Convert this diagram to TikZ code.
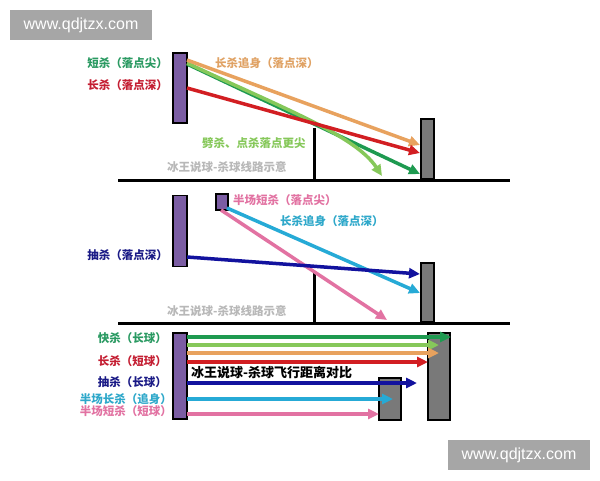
\documentclass[tikz,border=0pt]{standalone}
\usepackage{fontspec}
\setmainfont{Liberation Sans}
\newfontfamily\cjk{Noto Sans CJK SC}
\usetikzlibrary{arrows.meta}
\definecolor{dgreen}{HTML}{1E9A50}
\definecolor{lgreen}{HTML}{86C85A}
\definecolor{orng}{HTML}{E8A25E}
\definecolor{rred}{HTML}{D21E22}
\definecolor{bblue}{HTML}{12129E}
\definecolor{ccyan}{HTML}{26AAD6}
\definecolor{ppink}{HTML}{E272A2}
\definecolor{purp}{HTML}{7B5DA3}
\definecolor{wmgray}{HTML}{A6A6A6}
\definecolor{capgray}{HTML}{B8B8B8}
\definecolor{lblgreen}{HTML}{2A9A62}
\definecolor{lblred}{HTML}{C41E32}
\definecolor{lblblue}{HTML}{1A1A86}
\definecolor{lblcyan}{HTML}{2EA8CA}
\definecolor{lblorange}{HTML}{E0A264}
\begin{document}
\begin{tikzpicture}[x=1pt,y=-1pt,
  lbl/.style={font=\cjk\bfseries\fontsize{11.5}{12}\selectfont, inner sep=0pt},
  captxt/.style={font=\cjk\bfseries\fontsize{11.5}{12}\selectfont, inner sep=0pt, text=capgray, anchor=west},
  arr/.style={line width=3.5pt, -{Triangle[length=11pt,width=10pt]}},
  player/.style={draw=black, fill=purp, line width=1.2pt, inner sep=0pt, minimum width=14pt},
  recv/.style={draw=black, fill=gray!95!black, line width=1.2pt, inner sep=0pt},
  floorline/.style={line width=3pt, black},
  netline/.style={line width=3pt, black},
  wm/.style={fill=wmgray, text=white, font=\fontsize{16}{16}\selectfont, inner sep=0pt, minimum width=142pt, minimum height=30pt}
]
\useasboundingbox (0,0) rectangle (600,480);
\fill[white] (0,0) rectangle (600,480);

% watermarks
\node[wm] (wm1) at (81,25) {www.qdjtzx.com};
\node[wm] (wm2) at (519,455) {www.qdjtzx.com};

% ================= Panel 1 =================
\coordinate (f1a) at (118,180); \coordinate (f1b) at (510,180);
\draw[floorline] (f1a) -- (f1b);
\coordinate (n1t) at (314,128); \coordinate (n1b) at (314,180);
\draw[netline] (n1t) -- (n1b);
\node[player, minimum height=70pt] (p1) at (180,88) {};
\node[recv, minimum width=13pt, minimum height=60pt] (r1) at (427.5,149) {};

\coordinate (s1o) at (187,60);  \coordinate (e1o) at (420,145);
\coordinate (s1g) at (187,64);  \coordinate (e1g) at (420,174);
\coordinate (s1l) at (187,63);  \coordinate (e1l) at (382,176);
\coordinate (s1r) at (187,88);  \coordinate (e1r) at (420,153);
\draw[arr, dgreen] (s1g) -- (e1g);
\draw[arr, lgreen] (s1l) .. controls (280,107) and (355,135) .. (e1l);
\draw[arr, orng] (s1o) -- (e1o);
\draw[arr, rred] (s1r) -- (e1r);

\node[lbl, text=lblgreen, anchor=east] (l1a) at (168,63) {短杀（落点尖）};
\node[lbl, text=lblred, anchor=east] (l1b) at (168,85) {长杀（落点深）};
\node[lbl, text=lblorange, anchor=west] (l1c) at (215,63) {长杀追身（落点深）};
\node[lbl, text=lgreen, anchor=west] (l1d) at (202,143) {劈杀、点杀落点更尖};
\node[captxt] (c1) at (167,167) {冰王说球-杀球线路示意};

% ================= Panel 2 =================
\coordinate (f2a) at (118,323); \coordinate (f2b) at (510,323);
\draw[floorline] (f2a) -- (f2b);
\coordinate (n2t) at (314,272); \coordinate (n2b) at (314,323);
\draw[netline] (n2t) -- (n2b);
\node[player, minimum height=71pt] (p2) at (180,231) {};
\node[player, minimum width=12pt, minimum height=16pt] (p2s) at (222,202) {};
\node[recv, minimum width=13pt, minimum height=59pt] (r2) at (427.5,292.5) {};

\coordinate (s2p) at (221,210); \coordinate (e2p) at (387,320);
\coordinate (s2c) at (227,208); \coordinate (e2c) at (420,293);
\coordinate (s2b) at (187,257); \coordinate (e2b) at (420,274);
\draw[arr, ppink] (s2p) -- (e2p);
\draw[arr, ccyan] (s2c) -- (e2c);
\draw[arr, bblue] (s2b) -- (e2b);

\node[lbl, text=ppink, anchor=west] (l2a) at (233,200) {半场短杀（落点尖）};
\node[lbl, text=lblcyan, anchor=west] (l2b) at (280,221) {长杀追身（落点深）};
\node[lbl, text=lblblue, anchor=east] (l2c) at (168,255) {抽杀（落点深）};
\node[captxt] (c2) at (167,311) {冰王说球-杀球线路示意};

% ================= Panel 3 =================
\node[player, minimum height=86pt] (p3) at (180,376) {};
\node[recv, minimum width=22pt, minimum height=87pt] (r3a) at (439,376.5) {};
\node[recv, minimum width=22pt, minimum height=42pt] (r3b) at (390,399) {};

\coordinate (s3a) at (187,337); \coordinate (e3a) at (451,337);
\coordinate (s3b) at (187,345); \coordinate (e3b) at (439,345);
\coordinate (s3c) at (187,353); \coordinate (e3c) at (439,353);
\coordinate (s3d) at (187,362); \coordinate (e3d) at (428,362);
\coordinate (s3e) at (187,383); \coordinate (e3e) at (417,383);
\coordinate (s3f) at (187,399); \coordinate (e3f) at (393,399);
\coordinate (s3g) at (187,414); \coordinate (e3g) at (379,414);
\draw[arr, dgreen] (s3a) -- (e3a);
\draw[arr, lgreen] (s3b) -- (e3b);
\draw[arr, orng] (s3c) -- (e3c);
\draw[arr, rred] (s3d) -- (e3d);
\draw[arr, bblue] (s3e) -- (e3e);
\draw[arr, ccyan] (s3f) -- (e3f);
\draw[arr, ppink] (s3g) -- (e3g);

\node[lbl, text=lblgreen, anchor=east] (l3a) at (167,338) {快杀（长球）};
\node[lbl, text=lblred, anchor=east] (l3b) at (167,361) {长杀（短球）};
\node[lbl, text=lblblue, anchor=east] (l3c) at (167,382) {抽杀（长球）};
\node[lbl, text=lblcyan, anchor=east] (l3d) at (172,399) {半场长杀（追身）};
\node[lbl, text=ppink, anchor=east] (l3e) at (172,411) {半场短杀（短球）};
\node[font=\cjk\bfseries\fontsize{13}{13}\selectfont, inner sep=0pt, anchor=west] (t3) at (191,373) {冰王说球-杀球飞行距离对比};
\end{tikzpicture}
\end{document}
